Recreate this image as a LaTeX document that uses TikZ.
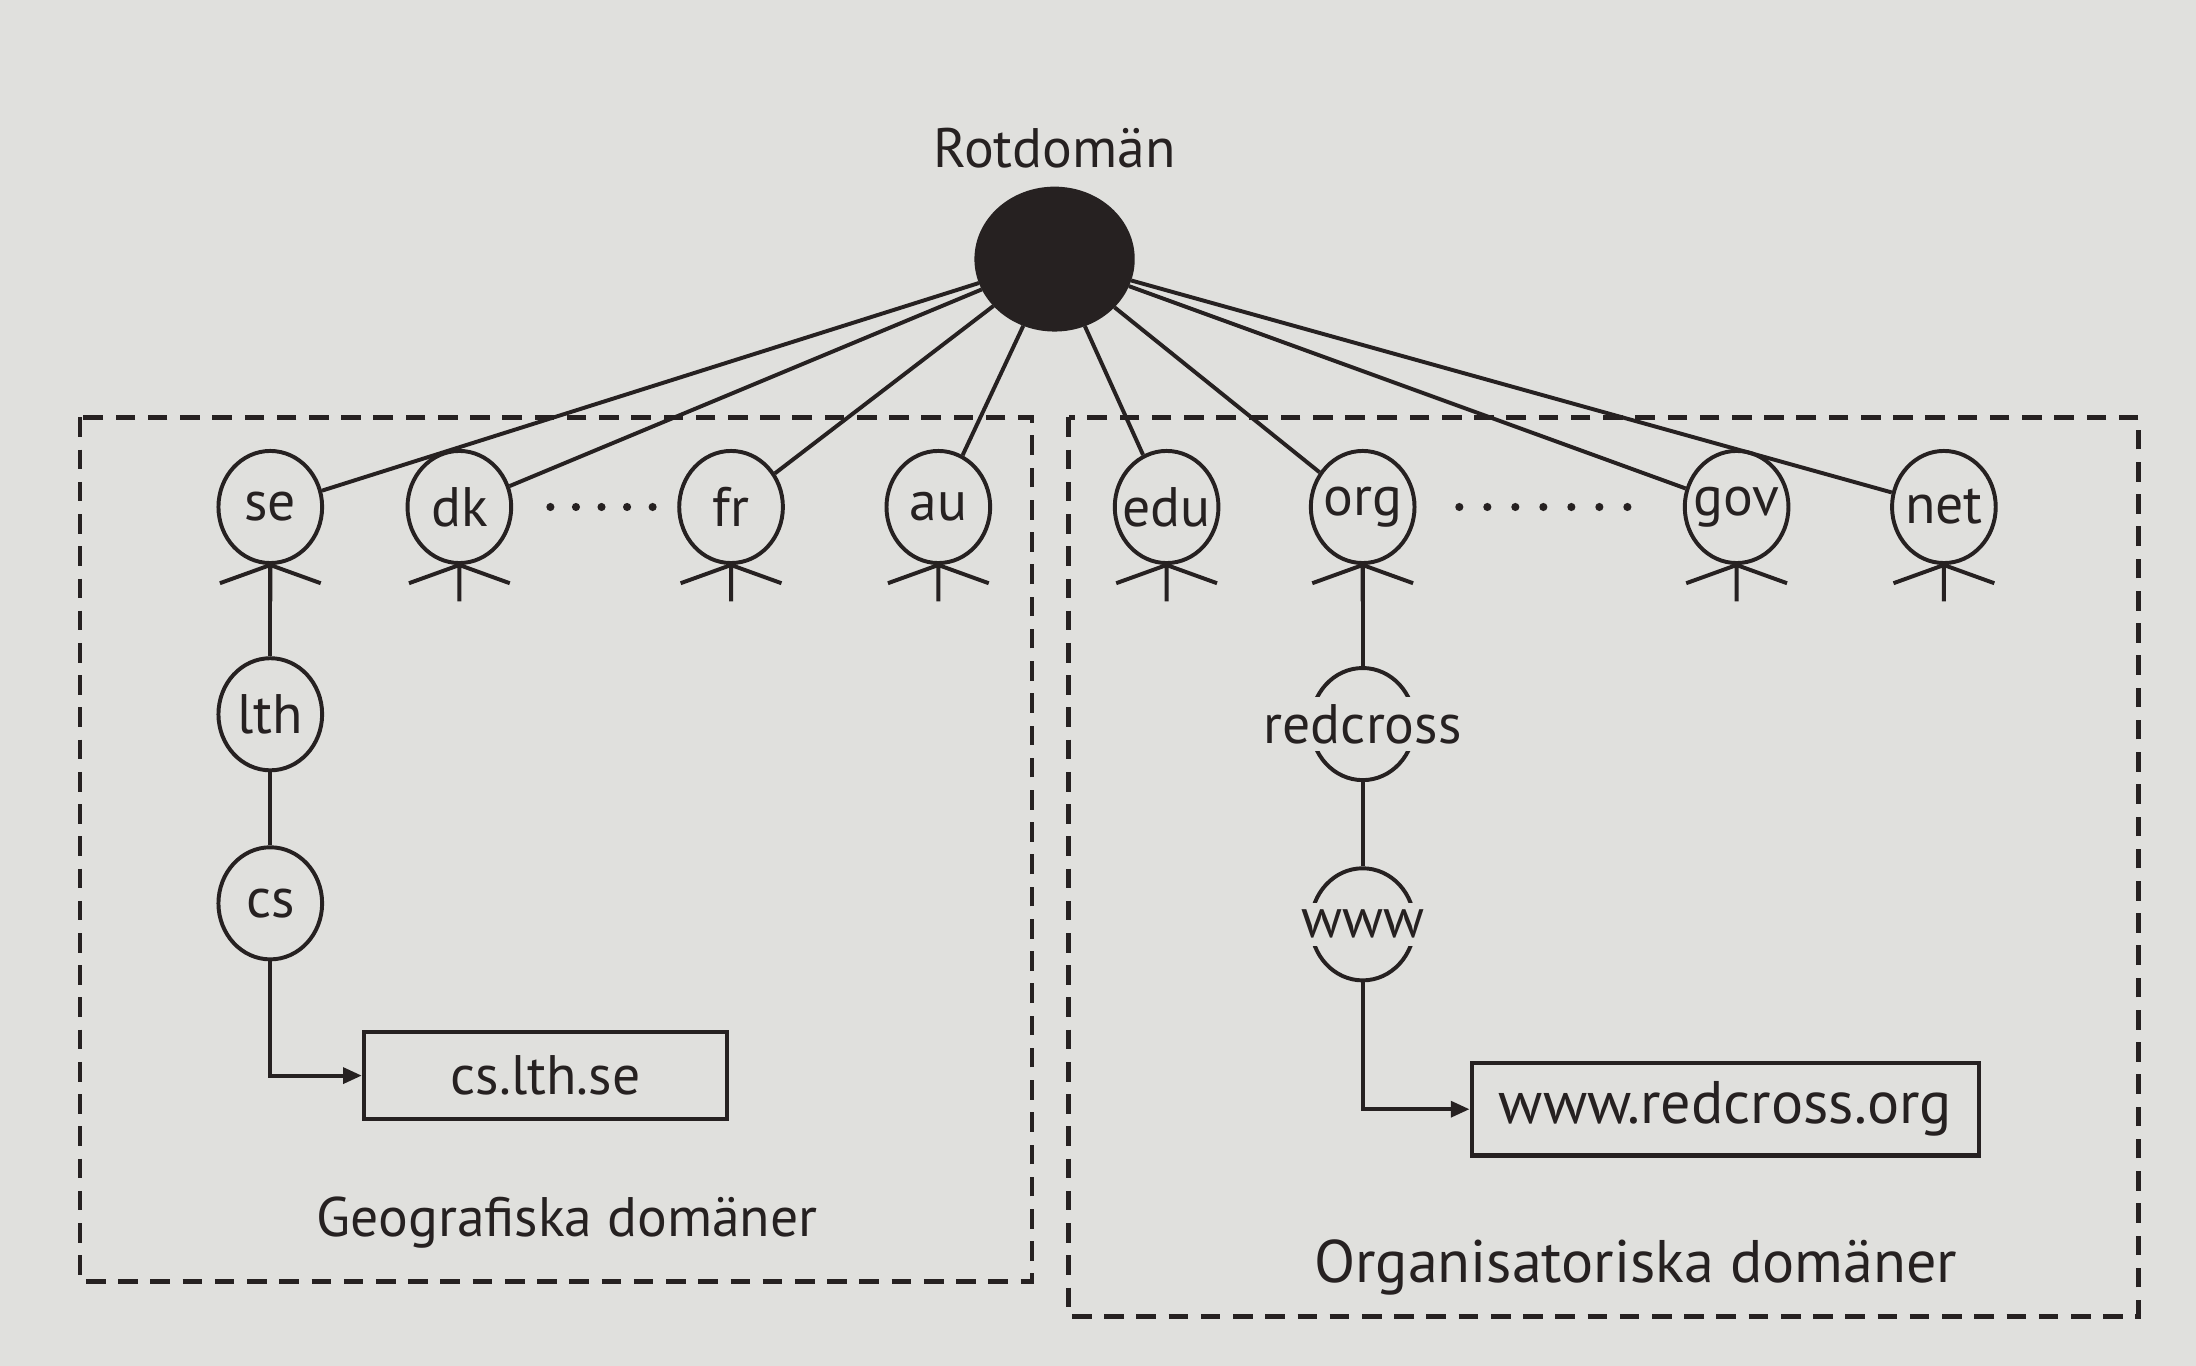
\documentclass[tikz,border=0pt]{standalone}
\usepackage{fontspec}
\setmainfont{PT Sans}
\usetikzlibrary{arrows.meta,shapes.geometric}
\definecolor{paper}{RGB}{224,224,221}
\definecolor{ink}{RGB}{38,33,33}
\tikzset{
  domnode/.style={ellipse, draw=ink, line width=0.8pt, minimum width=0.74cm,
                  minimum height=0.80cm, inner sep=0pt},
  domlab/.style={font=\fontsize{11.3}{13}\selectfont, text=ink},
  biglab/.style={font=\fontsize{12.2}{14}\selectfont, text=ink},
  leafbox/.style={rectangle, draw=ink, line width=0.9pt, inner sep=0pt, text=ink},
  region/.style={draw=ink, line width=0.9pt, dash pattern=on 0.14cm off 0.09cm},
  treeline/.style={draw=ink, line width=0.8pt},
  treearr/.style={treeline, -{Triangle[length=3.8pt,width=3.2pt]}},
}

\begin{document}
\begin{tikzpicture}[x=0.01cm,y=-0.01cm]
\useasboundingbox[fill=paper] (0,0) rectangle (1568,975);

% dashed regions
\draw[region] (57,298) rectangle (737,915);
\draw[region] (763,298) rectangle (1527,940);

% root
\node[domlab] (rotlab) at (753,106) {Rotdomän};
\node[ellipse, fill=ink, draw=ink, minimum width=1.13cm, minimum height=1.02cm, inner sep=0pt] (root) at (753,185) {};

% top level domains
\node[domnode, label={[domlab]center:se}] (se) at (193,362) {};
\node[domnode, label={[domlab]center:dk}] (dk) at (328,362) {};
\node[domnode, label={[domlab]center:fr}] (fr) at (522,362) {};
\node[domnode, label={[domlab]center:au}] (au) at (670,362) {};
\node[domnode, label={[domlab]center:edu}] (edu) at (833,362) {};
\node[domnode, label={[domlab]center:org}] (org) at (973,362) {};
\node[domnode, label={[domlab]center:gov}] (gov) at (1240,362) {};
\node[domnode, label={[domlab]center:net}] (net) at (1388,362) {};

\foreach \d in {se,dk,fr,au,edu,org,gov,net} {
  \draw[treeline] (root) -- (\d);
  \draw[treeline] (\d.south) -- ++(-36,13) (\d.south) -- ++(36,13) (\d.south) -- ++(0,26);
}
\foreach \i in {0,...,4} \fill[ink] (393+18.25*\i,362) circle (0.029cm);
\foreach \i in {0,...,6} \fill[ink] (1042+20*\i,362) circle (0.029cm);

% geographic branch
\node[domnode, label={[domlab]center:lth}] (lth) at (193,510) {};
\node[domnode, label={[domlab]center:cs}] (cs) at (193,645) {};
\node[leafbox, domlab, minimum width=2.59cm, minimum height=0.62cm] (csbox) at (389.5,768) {cs.lth.se};
\draw[treeline] (se) -- (lth);
\draw[treeline] (lth) -- (cs);
\draw[treearr] (cs.south) |- (csbox.west);

% organisational branch
\node[domnode, label={[domlab, fill=paper, inner sep=1.5pt]center:redcross}] (redcross) at (973,517) {};
\node[domnode, label={[domlab, fill=paper, inner sep=1.5pt]center:www}] (www) at (973,660) {};
\node[leafbox, biglab, minimum width=3.62cm, minimum height=0.66cm] (wwwbox) at (1232,792) {www.redcross.org};
\draw[treeline] (org) -- (redcross);
\draw[treeline] (redcross) -- (www);
\draw[treearr] (www.south) |- (wwwbox.west);

% region captions
\node[domlab] (geolab) at (405,873) {Geografiska domäner};
\node[biglab] (orglab) at (1168,905) {Organisatoriska domäner};
\end{tikzpicture}
\end{document}
